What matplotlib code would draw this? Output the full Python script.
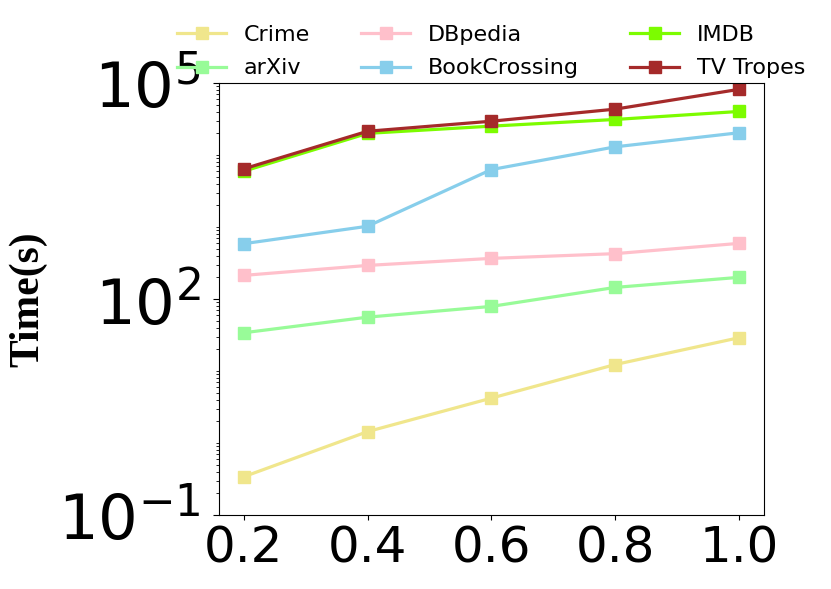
import matplotlib
matplotlib.use("Agg")
import matplotlib.pyplot as plt
import numpy as np
from matplotlib.ticker import LogLocator, NullFormatter

# sampling ratio on the x axis
ratios = [0.2, 0.4, 0.6, 0.8, 1.0]

# running time in seconds
crime = [0.34, 1.44, 4.2, 12.3, 29]
arxiv = [34, 56, 79, 145, 200]
dbpedia = [213, 293, 367, 427, 593]
bookcrossing = [587, 1025, 6280, 13000, 20400]
imdb = [5960, 20000, 25200, 31200, 40300]
tvtropes = [6430, 21400, 29500, 43400, 81700]

series = [
    ("Crime", crime, "khaki"),
    ("arXiv", arxiv, "palegreen"),
    ("DBpedia", dbpedia, "pink"),
    ("BookCrossing", bookcrossing, "skyblue"),
    ("IMDB", imdb, "lawngreen"),
    ("TV Tropes", tvtropes, "brown"),
]

fig = plt.figure(figsize=(8.31, 5.89), dpi=100)
ax = fig.add_axes([0.2635, 0.1256, 0.6555, 0.7334])

for name, vals, col in series:
    ax.plot(ratios, vals, marker="s", markersize=8.5, linewidth=2.3,
            color=col, label=name)

ax.set_yscale("log")
ax.set_ylim(1e-1, 1e5)
ax.set_yticks([1e-1, 1e2, 1e5])
ax.yaxis.set_minor_locator(LogLocator(base=10, subs=np.arange(1, 10), numticks=100))
ax.yaxis.set_minor_formatter(NullFormatter())
ax.set_xticks(ratios)
ax.tick_params(axis="x", labelsize=36)
ax.tick_params(axis="y", which="major", labelsize=45, length=4.5, pad=9)

ax.set_ylabel("Time(s)", fontsize=30, fontweight="bold",
              family=["Liberation Serif", "DejaVu Serif"])
ax.yaxis.set_label_coords(-0.315, 0.5)

ax.legend(loc="lower center", bbox_to_anchor=(0.5, 0.99), ncol=3,
          frameon=False, fontsize=16, columnspacing=2.3, handlelength=2.2,
          handletextpad=0.8, labelspacing=0.6, borderaxespad=0.0)

fig.savefig("out.png", dpi=100)
